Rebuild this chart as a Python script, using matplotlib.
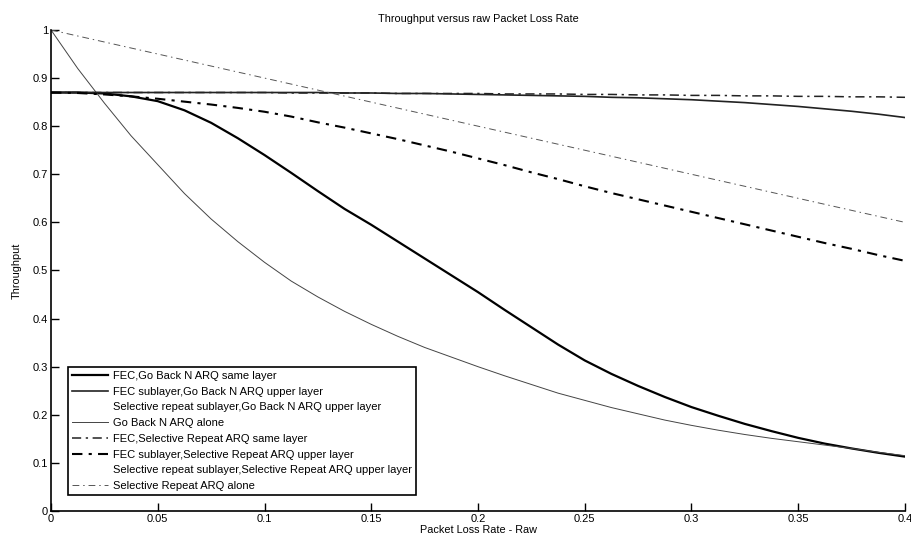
import matplotlib
matplotlib.use("Agg")
import matplotlib.pyplot as plt

plt.rcParams['font.family'] = ['Liberation Sans', 'DejaVu Sans']

p = [0.0, 0.0125, 0.025, 0.0375, 0.05, 0.0625, 0.075, 0.0875, 0.1, 0.1125, 0.125,
     0.1375, 0.15, 0.1625, 0.175, 0.1875, 0.2, 0.2125, 0.225, 0.2375, 0.25,
     0.2625, 0.275, 0.2875, 0.3, 0.3125, 0.325, 0.3375, 0.35, 0.3625, 0.375, 0.3875, 0.4]

fec_gbn_same = [0.87, 0.87, 0.868, 0.862, 0.852, 0.833, 0.807, 0.775, 0.74, 0.703, 0.665,
                0.628, 0.595, 0.56, 0.525, 0.49, 0.455, 0.418, 0.382, 0.346, 0.313,
                0.285, 0.26, 0.237, 0.216, 0.198, 0.181, 0.166, 0.152, 0.14, 0.13, 0.121, 0.113]
fec_sub_gbn_upper = [0.87, 0.87, 0.87, 0.87, 0.87, 0.87, 0.87, 0.87, 0.87, 0.87, 0.87,
                     0.869, 0.869, 0.868, 0.868, 0.867, 0.866, 0.865, 0.864, 0.863, 0.862,
                     0.86, 0.859, 0.857, 0.855, 0.852, 0.849, 0.845, 0.841, 0.836, 0.831, 0.825, 0.818]
sr_sub_gbn_upper = [0.87, 0.87, 0.87, 0.87, 0.87, 0.87, 0.87, 0.87, 0.87, 0.87, 0.87,
                    0.869, 0.869, 0.868, 0.868, 0.867, 0.866, 0.865, 0.864, 0.863, 0.862,
                    0.86, 0.859, 0.857, 0.855, 0.852, 0.849, 0.845, 0.841, 0.836, 0.831, 0.825, 0.818]
gbn_alone = [1.0, 0.92, 0.848, 0.78, 0.72, 0.66, 0.607, 0.56, 0.517, 0.478, 0.445,
             0.415, 0.388, 0.363, 0.34, 0.32, 0.30, 0.281, 0.263, 0.245, 0.23,
             0.215, 0.202, 0.189, 0.178, 0.168, 0.159, 0.151, 0.144, 0.137, 0.13, 0.122, 0.115]
fec_sr_same = [0.87, 0.87, 0.87, 0.87, 0.87, 0.87, 0.87, 0.87, 0.87, 0.869, 0.869,
               0.869, 0.869, 0.868, 0.868, 0.868, 0.868, 0.867, 0.867, 0.867, 0.866,
               0.866, 0.865, 0.865, 0.864, 0.864, 0.863, 0.863, 0.862, 0.862, 0.861, 0.861, 0.86]
fec_sub_sr_upper = [0.87, 0.869, 0.866, 0.862, 0.857, 0.851, 0.845, 0.838, 0.83, 0.82, 0.808,
                    0.797, 0.785, 0.773, 0.76, 0.747, 0.733, 0.719, 0.704, 0.69, 0.675,
                    0.661, 0.648, 0.635, 0.622, 0.609, 0.596, 0.583, 0.57, 0.557, 0.545, 0.532, 0.52]
sr_sub_sr_upper = [0.87, 0.869, 0.866, 0.862, 0.857, 0.851, 0.845, 0.838, 0.83, 0.82, 0.808,
                   0.797, 0.785, 0.773, 0.76, 0.747, 0.733, 0.719, 0.704, 0.69, 0.675,
                   0.661, 0.648, 0.635, 0.622, 0.609, 0.596, 0.583, 0.57, 0.557, 0.545, 0.532, 0.52]
sr_alone = [1.0, 0.9875, 0.975, 0.9625, 0.95, 0.9375, 0.925, 0.9125, 0.9, 0.8875, 0.875,
            0.8625, 0.85, 0.8375, 0.825, 0.8125, 0.8, 0.7875, 0.775, 0.7625, 0.75,
            0.7375, 0.725, 0.7125, 0.7, 0.6875, 0.675, 0.6625, 0.65, 0.6375, 0.625, 0.6125, 0.6]

labels = [
    "FEC,Go Back N ARQ same layer",
    "FEC sublayer,Go Back N ARQ upper layer",
    "Selective repeat sublayer,Go Back N ARQ upper layer",
    "Go Back N ARQ alone",
    "FEC,Selective Repeat ARQ same layer",
    "FEC sublayer,Selective Repeat ARQ upper layer",
    "Selective repeat sublayer,Selective Repeat ARQ upper layer",
    "Selective Repeat ARQ alone",
]
x_ticks = [0, 0.05, 0.1, 0.15, 0.2, 0.25, 0.3, 0.35, 0.4]
x_tick_labels = ["0", "0.05", "0.1", "0.15", "0.2", "0.25", "0.3", "0.35", "0.4"]
y_ticks = [0, 0.1, 0.2, 0.3, 0.4, 0.5, 0.6, 0.7, 0.8, 0.9, 1]
y_tick_labels = ["0", "0.1", "0.2", "0.3", "0.4", "0.5", "0.6", "0.7", "0.8", "0.9", "1"]

fig = plt.figure(figsize=(9.11, 5.45), dpi=100)
ax = fig.add_axes([0.056, 0.0624, 0.9374, 0.8826])

ax.plot(p, fec_gbn_same, color='black', lw=1.6, ls='-', label=labels[0])
ax.plot(p, fec_sub_gbn_upper, color='#222222', lw=1.2, ls='-', label=labels[1])
ax.plot(p, sr_sub_gbn_upper, color='none', lw=1.0, ls='-', label=labels[2])
ax.plot(p, gbn_alone, color='#444444', lw=0.7, ls='-', label=labels[3])
ax.plot(p, fec_sr_same, color='#222222', lw=1.1, ls=(0, (6, 3, 1.5, 3)), label=labels[4])
ax.plot(p, fec_sub_sr_upper, color='black', lw=1.5, ls=(0, (5, 3, 1.5, 3)), label=labels[5])
ax.plot(p, sr_sub_sr_upper, color='none', lw=1.0, ls='-', label=labels[6])
ax.plot(p, sr_alone, color='#555555', lw=0.7, ls=(0, (7, 4, 1.5, 4)), label=labels[7])

ax.set_xlim(0, 0.4)
ax.set_ylim(0, 1)
ax.set_xticks(x_ticks)
ax.set_xticklabels(x_tick_labels)
ax.set_yticks(y_ticks)
ax.set_yticklabels(y_tick_labels)
ax.tick_params(direction='in', length=6, width=1, labelsize=8, colors='black', pad=2)
for s in ['top', 'right']:
    ax.spines[s].set_visible(False)
for s in ['left', 'bottom']:
    ax.spines[s].set_linewidth(1.2)

ax.set_title("Throughput versus raw Packet Loss Rate", fontsize=7.8, pad=6)
ax.set_xlabel("Packet Loss Rate - Raw", fontsize=7.8, labelpad=1)
ax.set_ylabel("Throughput", fontsize=7.8, labelpad=8)

leg = ax.legend(loc='lower left', bbox_to_anchor=(0.02, 0.033), borderaxespad=0,
                fontsize=8.0, handlelength=3.2, handletextpad=0.5, labelspacing=0.52,
                fancybox=False, framealpha=1, borderpad=0.35)
leg.get_frame().set_edgecolor('black')
leg.get_frame().set_linewidth(1.2)

fig.savefig("out.png", dpi=100)
